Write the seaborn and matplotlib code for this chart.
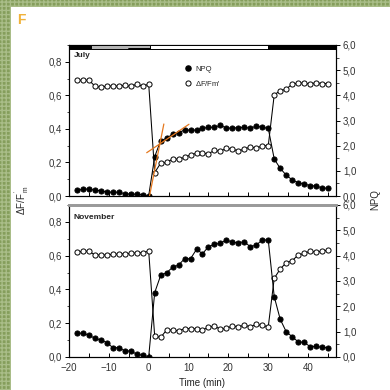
import matplotlib
matplotlib.use("Agg")
import matplotlib.pyplot as plt
import matplotlib.ticker as mticker
from matplotlib.patches import Rectangle
from matplotlib.lines import Line2D
import matplotlib.transforms as mtrans
import seaborn as sns

sns.set_style("ticks")
plt.rcParams['font.family'] = ['Liberation Sans', 'DejaVu Sans']
plt.rcParams['mathtext.default'] = 'regular'

# ---------------- data ----------------
time = [-18, -16.5, -15, -13.5, -12, -10.5, -9, -7.5, -6, -4.5, -3, -1.5, 0,
        1.5, 3, 4.5, 6, 7.5, 9, 10.5, 12, 13.5, 15, 16.5, 18, 19.5, 21, 22.5,
        24, 25.5, 27, 28.5, 30,
        31.5, 33, 34.5, 36, 37.5, 39, 40.5, 42, 43.5, 45]

july_yield = [0.69, 0.69, 0.69, 0.655, 0.648, 0.655, 0.655, 0.655, 0.66, 0.653, 0.667, 0.653, 0.667,
              0.14, 0.195, 0.20, 0.22, 0.22, 0.23, 0.245, 0.255, 0.255, 0.252, 0.272, 0.266, 0.285,
              0.279, 0.269, 0.279, 0.293, 0.285, 0.299, 0.30,
              0.603, 0.627, 0.637, 0.667, 0.673, 0.673, 0.667, 0.676, 0.67, 0.67]
july_npq = [0.22, 0.27, 0.28, 0.23, 0.21, 0.16, 0.15, 0.15, 0.09, 0.08, 0.07, 0.05, 0.01,
            1.56, 2.20, 2.29, 2.46, 2.52, 2.62, 2.62, 2.62, 2.69, 2.73, 2.73, 2.81, 2.70,
            2.70, 2.72, 2.73, 2.69, 2.78, 2.73, 2.69,
            1.47, 1.10, 0.83, 0.64, 0.53, 0.48, 0.41, 0.40, 0.32, 0.31]

nov_yield = [0.623, 0.625, 0.627, 0.604, 0.604, 0.604, 0.609, 0.609, 0.611, 0.613, 0.617, 0.617, 0.627,
             0.124, 0.116, 0.160, 0.160, 0.154, 0.168, 0.168, 0.166, 0.160, 0.176, 0.183, 0.164,
             0.170, 0.183, 0.180, 0.187, 0.180, 0.193, 0.187, 0.179,
             0.466, 0.521, 0.558, 0.570, 0.604, 0.613, 0.627, 0.621, 0.627, 0.633]
nov_npq = [0.94, 0.94, 0.86, 0.74, 0.67, 0.57, 0.37, 0.37, 0.24, 0.24, 0.11, 0.07, 0.01,
           2.54, 3.22, 3.33, 3.54, 3.63, 3.88, 3.88, 4.25, 4.08, 4.35, 4.45, 4.49, 4.62,
           4.53, 4.51, 4.55, 4.35, 4.42, 4.62, 4.62,
           2.38, 1.49, 1.00, 0.80, 0.60, 0.58, 0.41, 0.42, 0.38, 0.37]

# tangent lines (orange) on July NPQ
tan1_x = [0.2, 3.8]
tan1_y = [0.0, 2.86]
tan2_x = [-0.5, 10.1]
tan2_y = [1.72, 2.85]

# light regime bar: (start, end, colour)
bar_segments = [(-20, -14.5, 'black'), (-14.5, 0.25, '#b4b4b4'), (0.25, 30, 'white'), (30, 47, 'black')]

panel_labels = ["July", "November"]
xticks = [-20, -10, 0, 10, 20, 30, 40]
yticks_left = [0.0, 0.2, 0.4, 0.6, 0.8]
yticks_right = [0, 1, 2, 3, 4, 5, 6]

# ---------------- figure ----------------
W = H = 390
fig = plt.figure(figsize=(3.9, 3.9), dpi=100)
fig.patch.set_facecolor('white')

# decorative green border
fig.add_artist(Rectangle((0, 0), 11 / W, 1, transform=fig.transFigure, facecolor='#859e5c',
                         edgecolor='#a9bd88', hatch='++++', linewidth=0, zorder=0))
fig.add_artist(Rectangle((0, 1 - 7 / H), 1, 7 / H, transform=fig.transFigure, facecolor='#859e5c',
                         edgecolor='#a9bd88', hatch='++++', linewidth=0, zorder=0))
fig.text(17 / W, 1 - 20 / H, "F", color='#f0b23a', fontsize=10, fontweight='bold', va='center', ha='left')

ax1 = fig.add_axes([69 / W, (H - 196) / H, 267 / W, 151 / H])
ax2 = fig.add_axes([69 / W, (H - 357) / H, 267 / W, 152 / H])

comma = mticker.FuncFormatter(lambda v, p: f"{v:.1f}".replace('.', ','))
tick_kw = dict(labelsize=7, labelcolor='#333333', width=0.7, color='black')
MS = 3.7

for ax, yld, npq, lab in [(ax1, july_yield, july_npq, panel_labels[0]),
                          (ax2, nov_yield, nov_npq, panel_labels[1])]:
    axr = ax.twinx()
    sns.lineplot(x=time, y=yld, ax=ax, color='black', linewidth=0.75, marker='o',
                 markersize=MS, markerfacecolor='white', markeredgecolor='black',
                 markeredgewidth=0.7, sort=False)
    sns.lineplot(x=time, y=npq, ax=axr, color='black', linewidth=0.75, marker='o',
                 markersize=MS, markerfacecolor='black', markeredgecolor='black',
                 markeredgewidth=0.7, sort=False)
    ax.set_xlim(-20, 47)
    ax.set_ylim(0, 0.9)
    axr.set_ylim(0, 6)
    ax.set_xticks(xticks)
    ax.xaxis.set_minor_locator(mticker.MultipleLocator(5))
    ax.set_yticks(yticks_left)
    ax.yaxis.set_minor_locator(mticker.MultipleLocator(0.1))
    ax.yaxis.set_major_formatter(comma)
    axr.set_yticks(yticks_right)
    axr.yaxis.set_minor_locator(mticker.MultipleLocator(0.5))
    axr.yaxis.set_major_formatter(comma)
    ax.tick_params(axis='x', which='both', direction='in', length=3, **tick_kw)
    ax.tick_params(axis='y', which='major', direction='out', length=3, pad=2, **tick_kw)
    ax.tick_params(axis='y', which='minor', direction='out', length=1.8, width=0.6)
    axr.tick_params(axis='y', which='major', direction='out', length=3, pad=2, **tick_kw)
    axr.tick_params(axis='y', which='minor', direction='out', length=1.8, width=0.6)
    for a in (ax, axr):
        for s in a.spines.values():
            s.set_linewidth(0.8)
            s.set_color('black')
    ax.set_xlabel('')
    ax.set_ylabel('')
    axr.set_ylabel('')
    ax.text(0.018, 0.955 if ax is ax1 else 0.94, lab, transform=ax.transAxes, fontsize=6,
            fontweight='bold', va='top', ha='left')
    if ax is ax1:
        axr.plot(tan1_x, tan1_y, color='#e5781e', linewidth=0.9, zorder=5)
        axr.plot(tan2_x, tan2_y, color='#e5781e', linewidth=0.9, zorder=5)
        handles = [Line2D([], [], color='black', marker='o', linestyle='none', markersize=MS,
                          markerfacecolor='black'),
                   Line2D([], [], color='black', marker='o', linestyle='none', markersize=MS,
                          markerfacecolor='white', markeredgewidth=0.7)]
        axr.legend(handles, ['NPQ', r"$\Delta$F/Fm'"], loc='upper left',
                   bbox_to_anchor=(0.42, 0.89), frameon=False, fontsize=5.5,
                   handlelength=0.8, handletextpad=0.5, labelspacing=0.75, borderpad=0)
        ax.tick_params(axis='x', labelbottom=False)
        # light regime bar
        blend = mtrans.blended_transform_factory(ax.transData, ax.transAxes)
        for x0, x1, c in bar_segments:
            axr.add_patch(Rectangle((x0, 0.972), x1 - x0, 0.028, transform=blend, facecolor=c,
                                    edgecolor='black', linewidth=0.7, clip_on=False, zorder=6))
        axr.plot([-5, 0.25], [0.972, 0.972], transform=blend, color='black', linewidth=1.4,
                 clip_on=False, zorder=7)
    else:
        ax.spines['top'].set_color('#9a9a9a')
        ax.spines['top'].set_linewidth(2.0)
        axr.spines['top'].set_color('#9a9a9a')
        axr.spines['top'].set_linewidth(2.0)
        ax.tick_params(axis='x', pad=4)

fig.text(22 / W, 1 - 200 / H, r"$\Delta$F/F$\,^{'}_{m}$", rotation=90, fontsize=7,
         va='center', ha='center')
fig.text(375 / W, 1 - 200 / H, "NPQ", rotation=90, fontsize=7, va='center', ha='center')
fig.text(202 / W, 1 - 383 / H, "Time (min)", fontsize=7, va='center', ha='center', color='#222222')

fig.savefig("out.png", dpi=100)
